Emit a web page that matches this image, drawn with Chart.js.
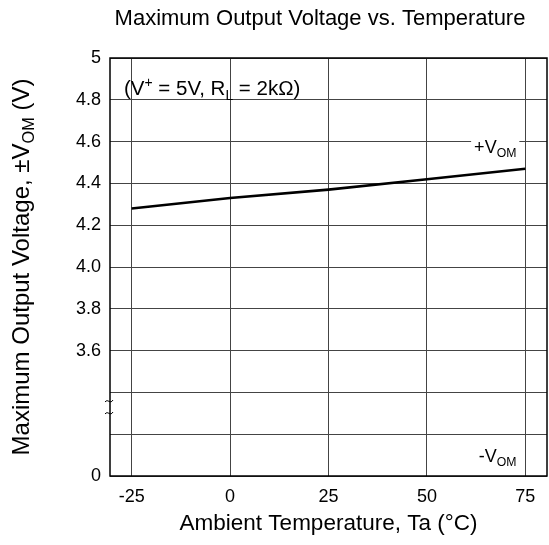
<!DOCTYPE html>
<html>
<head>
<meta charset="utf-8">
<script src="https://cdn.jsdelivr.net/npm/chart.js@4/dist/chart.umd.min.js"></script>
<style>
  html, body { margin: 0; padding: 0; background: #fff; }
  #wrap { width: 549px; height: 545px; }
</style>
</head>
<body>
<div id="wrap"><canvas id="chart"></canvas></div>
<script>
// data
var temperatures = [-25, 0, 25, 50, 75];
var vomPlus = [4.28, 4.33, 4.37, 4.42, 4.47];
var xTicks = [-25, 0, 25, 50, 75];
// broken axis: bottom of the scale stands for 0 V
var yTicks = [3.0, 3.2, 3.4, 3.6, 3.8, 4.0, 4.2, 4.4, 4.6, 4.8, 5.0];
var yTickLabels = ['0', '', '', '3.6', '3.8', '4.0', '4.2', '4.4', '4.6', '4.8', '5'];

var FONT = '"Liberation Sans", Arial, sans-serif';

// draw text made of parts, some of them sub/superscript
function drawRich(ctx, parts, x, y, size, align, bg) {
    var widths = [], total = 0;
    parts.forEach(function (p) {
        var s = p.sub || p.sup ? size * 0.68 : size;
        ctx.font = s + 'px ' + FONT;
        var w = ctx.measureText(p.t).width;
        widths.push(w);
        total += w;
    });
    var sx = x;
    if (align === 'center') sx = x - total / 2;
    if (align === 'right') sx = x - total;
    if (bg) {
        ctx.fillStyle = '#fff';
        ctx.fillRect(sx - 3, y - size * 0.6, total + 6, size * 1.2);
    }
    ctx.fillStyle = '#000';
    ctx.textBaseline = 'alphabetic';
    ctx.textAlign = 'left';
    var base = y + size * 0.36;
    parts.forEach(function (p, i) {
        var s = p.sub || p.sup ? size * 0.68 : size;
        ctx.font = s + 'px ' + FONT;
        var dy = p.sub ? size * 0.22 : (p.sup ? -size * 0.38 : 0);
        ctx.fillText(p.t, sx, base + dy);
        sx += widths[i];
    });
}

var extras = {
    id: 'extras',
    afterDraw: function (chart) {
        var ctx = chart.ctx, ca = chart.chartArea;
        var xs = chart.scales.x, ys = chart.scales.y;
        ctx.save();

        // frame
        ctx.strokeStyle = '#000';
        ctx.lineWidth = 1.5;
        ctx.strokeRect(ca.left, ca.top, ca.right - ca.left, ca.bottom - ca.top);

        // axis break marks
        ctx.lineWidth = 1;
        [401, 413].forEach(function (yy) {
            ctx.beginPath();
            ctx.moveTo(ca.left - 5, yy + 1);
            ctx.bezierCurveTo(ca.left - 2, yy - 3, ca.left + 0, yy + 4, ca.left + 3, yy - 1);
            ctx.stroke();
        });

        // title
        ctx.fillStyle = '#000';
        ctx.font = '22px ' + FONT;
        ctx.textAlign = 'center';
        ctx.textBaseline = 'middle';
        ctx.fillText('Maximum Output Voltage vs. Temperature', 320, 19);

        // x axis title
        ctx.font = '22.5px ' + FONT;
        ctx.fillText('Ambient Temperature, Ta (°C)', (ca.left + ca.right) / 2, 524);

        // y axis title
        ctx.save();
        ctx.translate(20, (ca.top + ca.bottom) / 2);
        ctx.rotate(-Math.PI / 2);
        drawRich(ctx, [{t: 'Maximum Output Voltage, \u00b1V'}, {t: 'OM', sub: true}, {t: ' (V)'}], 0, 0, 24, 'center');
        ctx.restore();

        // condition note
        drawRich(ctx, [{t: '(V'}, {t: '+', sup: true}, {t: ' = 5V, R'}, {t: 'L', sub: true}, {t: ' = 2k\u03a9)'}],
            ca.left + 14, ys.getPixelForValue(4.9) + 9, 20.5, 'left');

        // curve labels
        var lx = xs.getPixelForValue(75) - 9;
        drawRich(ctx, [{t: '+V'}, {t: 'OM', sub: true}], lx, ys.getPixelForValue(4.6) + 5, 18, 'right', true);
        drawRich(ctx, [{t: '-V'}, {t: 'OM', sub: true}], lx, ys.getPixelForValue(3.1), 18, 'right');

        ctx.restore();
    }
};

var ctx = document.getElementById('chart').getContext('2d');
var myChart = new Chart(ctx, {
    type: 'line',
    data: {
        datasets: [{
            label: '+VOM',
            data: temperatures.map(function (t, i) { return {x: t, y: vomPlus[i]}; }),
            borderColor: '#000',
            borderWidth: 2.6,
            pointRadius: 0,
            tension: 0,
            fill: false
        }]
    },
    options: {
        responsive: true,
        maintainAspectRatio: false,
        animation: false,
        layout: { padding: { top: 58, right: 2, left: 0, bottom: 0 } },
        plugins: {
            legend: { display: false },
            tooltip: { enabled: false },
            title: { display: false }
        },
        scales: {
            x: {
                type: 'linear',
                min: -30.5,
                max: 80.5,
                afterBuildTicks: function (scale) {
                    scale.ticks = xTicks.map(function (v) { return {value: v}; });
                },
                afterFit: function (scale) { scale.height = 69; },
                grid: { color: '#444', lineWidth: 1, drawTicks: false },
                border: { display: false },
                ticks: {
                    padding: 10,
                    color: '#000',
                    font: { family: FONT, size: 18 },
                    maxRotation: 0,
                    callback: function (v) { return String(v); }
                }
            },
            y: {
                type: 'linear',
                min: 3.0,
                max: 5.0,
                afterBuildTicks: function (scale) {
                    scale.ticks = yTicks.map(function (v) { return {value: v}; });
                },
                afterFit: function (scale) { scale.width = 110; },
                grid: { color: '#444', lineWidth: 1, drawTicks: false },
                border: { display: false },
                ticks: {
                    padding: 9,
                    color: '#000',
                    font: { family: FONT, size: 18 },
                    callback: function (v, i) { return yTickLabels[i]; }
                }
            }
        }
    },
    plugins: [extras]
});
</script>
</body>
</html>
